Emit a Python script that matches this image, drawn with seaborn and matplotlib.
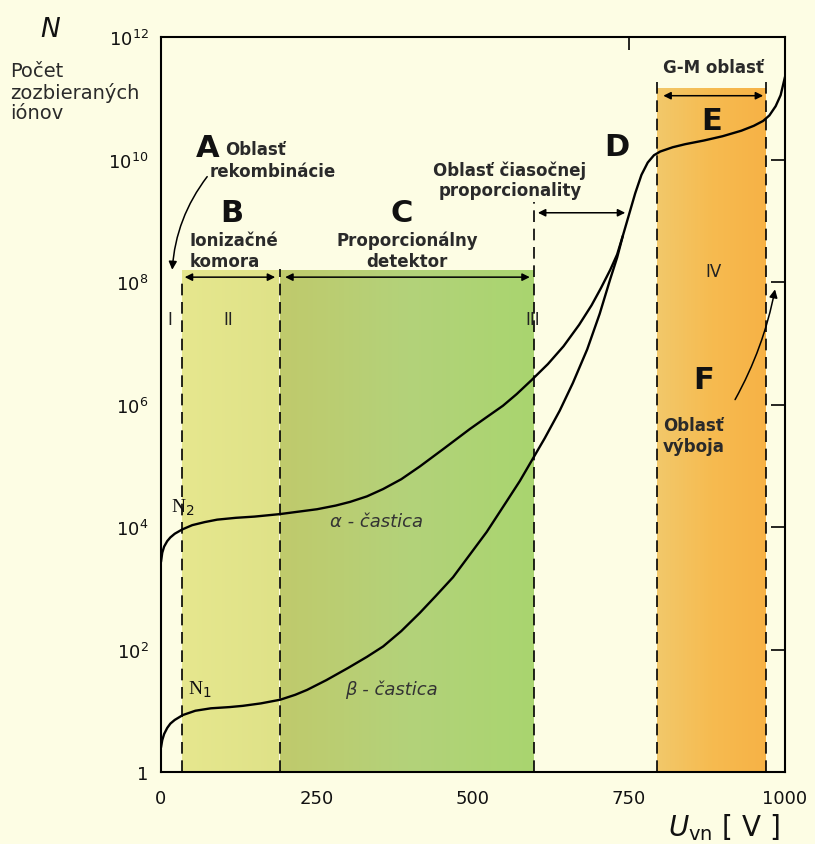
import numpy as np
import pandas as pd
import seaborn as sns
import matplotlib.pyplot as plt
from matplotlib.colors import LinearSegmentedColormap

# U [V] and log10(N)
alpha_u = [0, 2, 5, 10, 15, 22, 34, 50, 70, 90, 120, 150, 190, 220, 250, 280, 303, 330,
           356, 385, 415, 452, 495, 520, 548, 570, 594, 620, 645, 670, 690, 705, 720, 731,
           740, 750, 760, 770, 780, 790, 800, 820, 840, 870, 900, 930, 950, 965, 975, 985,
           993, 1000]
alpha_logn = [3.43, 3.58, 3.68, 3.77, 3.83, 3.89, 3.96, 4.03, 4.08, 4.12, 4.15, 4.17, 4.21,
              4.25, 4.29, 4.35, 4.41, 4.5, 4.62, 4.78, 4.99, 5.27, 5.6, 5.78, 5.98, 6.17,
              6.4, 6.66, 6.95, 7.3, 7.62, 7.9, 8.2, 8.45, 8.75, 9.1, 9.45, 9.75, 9.95, 10.07,
              10.13, 10.2, 10.25, 10.31, 10.38, 10.47, 10.55, 10.63, 10.72, 10.87, 11.05,
              11.35]
beta_u = [0, 2, 5, 10, 15, 22, 35, 55, 80, 110, 131, 160, 191, 215, 234, 265, 300, 330,
          356, 385, 415, 440, 468, 495, 522, 554, 575, 591, 615, 639, 660, 683, 703, 720,
          731, 740]
beta_logn = [0.4, 0.52, 0.62, 0.72, 0.79, 0.85, 0.93, 1.0, 1.04, 1.06, 1.08, 1.12, 1.18,
             1.26, 1.34, 1.5, 1.7, 1.88, 2.05, 2.3, 2.6, 2.87, 3.18, 3.55, 3.92, 4.42, 4.75,
             5.03, 5.45, 5.9, 6.35, 6.9, 7.48, 8.05, 8.4, 8.75]

# region borders [V] and heights of the shaded boxes
edge_b = [33, 190]
edge_c = [190, 598]
edge_e = [795, 970]
top_bc = 1.6e8
top_e = 1.5e11
dash_top = {33: 1.2e8, 190: 1.6e8, 598: 2e9, 795: 2.3e11, 970: 2.3e11}

x_ticks = [0, 250, 500, 750, 1000]
y_ticks = [1, 1e2, 1e4, 1e6, 1e8, 1e10, 1e12]
y_labels = ["1", "$10^2$", "$10^4$", "$10^6$", "$10^8$", "$10^{10}$", "$10^{12}$"]

bg = "#fdfde4"
ink = "#2a2a2a"

sns.set_theme(style="white", rc={"axes.facecolor": bg, "figure.facecolor": bg})
plt.rcParams["font.family"] = ["DejaVu Sans"]

fig = plt.figure(figsize=(8.15, 8.45), dpi=100)
ax = fig.add_axes([161 / 815, 1 - 773 / 845, 624 / 815, 735 / 845])
ax.set_yscale("log")

grad = np.linspace(0, 1, 256).reshape(1, -1)
cm_b = LinearSegmentedColormap.from_list("b", ["#e6e78e", "#dfe288"])
cm_c = LinearSegmentedColormap.from_list("c", ["#c0ca6c", "#b3d27a", "#a9d56f"])
cm_e = LinearSegmentedColormap.from_list("e", ["#f2c86a", "#f6bb50", "#f7b246"])
ax.imshow(grad, cmap=cm_b, extent=[edge_b[0], edge_b[1], 1, top_bc], aspect="auto", zorder=0)
ax.imshow(grad, cmap=cm_c, extent=[edge_c[0], edge_c[1], 1, top_bc], aspect="auto", zorder=0)
ax.imshow(grad, cmap=cm_e, extent=[edge_e[0], edge_e[1], 1, top_e], aspect="auto", zorder=0)

for u, h in dash_top.items():
    ax.vlines(u, 1, h, colors="black", linestyles=(0, (7, 4)), lw=1.2, zorder=2)

alpha = pd.DataFrame({"U": alpha_u, "N": 10 ** np.array(alpha_logn)})
beta = pd.DataFrame({"U": beta_u, "N": 10 ** np.array(beta_logn)})
sns.lineplot(data=alpha, x="U", y="N", color="black", lw=1.7, ax=ax, estimator=None, zorder=3)
sns.lineplot(data=beta, x="U", y="N", color="black", lw=1.7, ax=ax, estimator=None, zorder=3)

ax.set_xlim(0, 1000)
ax.set_ylim(1, 1e12)
ax.set_xticks(x_ticks)
ax.set_xticklabels([str(t) for t in x_ticks])
ax.set_yticks(y_ticks)
ax.set_yticklabels(y_labels)
ax.minorticks_off()
ax.tick_params(axis="both", direction="in", length=10, width=1.2, color="black",
               labelsize=13, labelcolor="#111111", top=False, right=True)
ax.tick_params(axis="x", pad=12)
ax.tick_params(axis="y", pad=9)
ax.set_xlabel("")
ax.set_ylabel("")
for s in ax.spines.values():
    s.set_color("black")
    s.set_linewidth(1.5)

# the only tick on the top edge
top = ax.secondary_xaxis("top")
top.set_xticks([750])
top.set_xticklabels([""])
top.tick_params(direction="in", length=9, width=1.2, color="black")
top.spines["top"].set_visible(False)

# double arrows over the regions
arrow_kw = dict(arrowstyle="<|-|>", color="black", lw=1.1, mutation_scale=11,
                shrinkA=0, shrinkB=0)
for x0, x1, y in [(38, 183, 1.2e8), (199, 591, 1.2e8), (604, 744, 1.35e9), (805, 965, 1.1e11)]:
    ax.annotate("", xy=(x1, y), xytext=(x0, y), arrowprops=arrow_kw, zorder=4)

big = dict(fontsize=22, fontweight="bold", color="#111111", ha="center", va="center")
lab = dict(fontsize=12, fontweight="bold", color=ink, va="center", linespacing=1.2)
ax.text(74, 10 ** 10.2, "A", **big)
ax.text(103, 10 ** 10.17, "Oblasť", ha="left", **lab)
ax.text(78, 10 ** 9.81, "rekombinácie", ha="left", **lab)
ax.text(114, 10 ** 9.14, "B", **big)
ax.text(46, 10 ** 8.52, "Ionizačné\nkomora", ha="left", **lab)
ax.text(386, 10 ** 9.14, "C", **big)
ax.text(394, 10 ** 8.52, "Proporcionálny\ndetektor", ha="center", multialignment="center", **lab)
ax.text(559, 10 ** 9.67, "Oblasť čiasočnej\nproporcionality", ha="center",
        multialignment="center", **lab)
ax.text(731, 10 ** 10.22, "D", **big)
ax.text(885, 10 ** 11.51, "G-M oblasť", ha="center", **lab)
ax.text(883, 10 ** 10.64, "E", **big)
ax.text(869, 10 ** 6.4, "F", **big)
ax.text(804, 10 ** 5.49, "Oblasť\nvýboja", ha="left", **lab)

roman = dict(fontsize=12, color="#222222", ha="center", va="center")
ax.text(885, 10 ** 8.18, "IV", **roman)
ax.text(14, 10 ** 7.4, "I", **roman)
ax.text(107, 10 ** 7.4, "II", **roman)
ax.text(596, 10 ** 7.4, "III", **roman)

ax.annotate("", xy=(18, 10 ** 8.2), xytext=(74, 10 ** 9.72),
            arrowprops=dict(arrowstyle="-|>", color="black", lw=1.1, mutation_scale=12,
                            connectionstyle="arc3,rad=0.15", shrinkA=0, shrinkB=0))
ax.annotate("", xy=(984, 10 ** 7.88), xytext=(920, 10 ** 6.08),
            arrowprops=dict(arrowstyle="-|>", color="black", lw=1.1, mutation_scale=12,
                            connectionstyle="arc3,rad=0.08", shrinkA=0, shrinkB=0))

serif = dict(fontsize=14, color="#111111", ha="center", va="center", family="Liberation Serif")
ax.text(35, 10 ** 4.33, "N$_2$", **serif)
ax.text(62, 10 ** 1.36, "N$_1$", **serif)
ax.text(271, 10 ** 4.1, "α - častica", fontsize=13, style="italic", color="#333333",
        ha="left", va="center")
ax.text(295, 10 ** 1.36, "β - častica", fontsize=13, style="italic", color="#333333",
        ha="left", va="center")

fig.text(50 / 815, 1 - 30 / 845, "N", fontsize=19, style="italic", color="#111111",
         ha="center", va="center")
fig.text(10 / 815, 1 - 62 / 845, "Počet\nzozbieraných\niónov", fontsize=14, color=ink,
         ha="left", va="top", linespacing=1.1)
fig.text(668 / 815, 1 - 828 / 845, r"$\mathit{U}_{\rm vn}$ [ V ]", fontsize=20,
         color="#111111", ha="left", va="center")

fig.savefig("out.png", dpi=100, facecolor=bg)
